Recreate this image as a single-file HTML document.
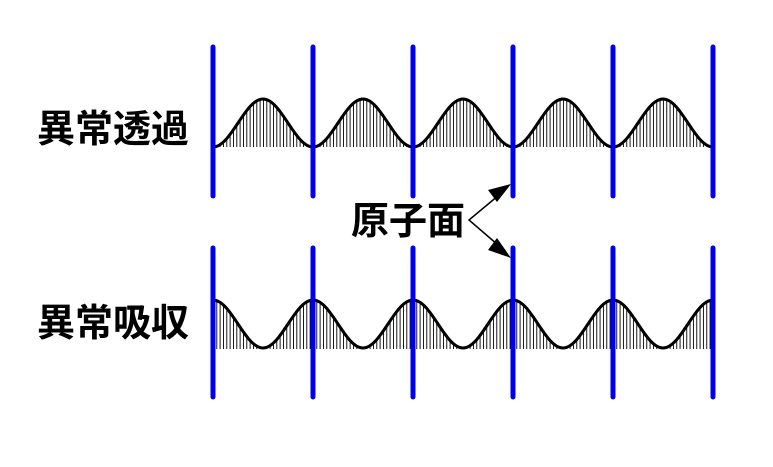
<!DOCTYPE html>
<html><head><meta charset="utf-8"><style>
html,body{margin:0;padding:0;background:#fff;}
svg{display:block;}
text{font-family:"Liberation Sans","Noto Sans CJK JP",sans-serif;font-weight:bold;fill:#000;}
</style></head><body>
<svg width="773" height="467" viewBox="0 0 773 467" xmlns="http://www.w3.org/2000/svg">
<defs>
<pattern id="h" patternUnits="userSpaceOnUse" x="213" y="0" width="3.333" height="10">
<rect x="0" y="0" width="0.9" height="10" fill="#000"/>
</pattern>
</defs>
<path d="M213 147 C231.2 147 244.8 99 263 99 S294.8 147 313 147 S344.8 99 363 99 S394.8 147 413 147 S444.8 99 463 99 S494.8 147 513 147 S544.8 99 563 99 S594.8 147 613 147 S644.8 99 663 99 S694.8 147 713 147 Z" fill="url(#h)"/>
<path d="M213 147 C231.2 147 244.8 99 263 99 S294.8 147 313 147 S344.8 99 363 99 S394.8 147 413 147 S444.8 99 463 99 S494.8 147 513 147 S544.8 99 563 99 S594.8 147 613 147 S644.8 99 663 99 S694.8 147 713 147" fill="none" stroke="#000" stroke-width="3"/>
<path d="M213 300 C231.2 300 244.8 348 263 348 S294.8 300 313 300 S344.8 348 363 348 S394.8 300 413 300 S444.8 348 463 348 S494.8 300 513 300 S544.8 348 563 348 S594.8 300 613 300 S644.8 348 663 348 S694.8 300 713 300 L713 349 L213 349 Z" fill="url(#h)"/>
<path d="M213 300 C231.2 300 244.8 348 263 348 S294.8 300 313 300 S344.8 348 363 348 S394.8 300 413 300 S444.8 348 463 348 S494.8 300 513 300 S544.8 348 563 348 S594.8 300 613 300 S644.8 348 663 348 S694.8 300 713 300" fill="none" stroke="#000" stroke-width="3"/>
<g stroke="#0000ee" stroke-width="5" stroke-linecap="round">
<line x1="213" y1="47" x2="213" y2="196"/><line x1="313" y1="47" x2="313" y2="196"/>
<line x1="413" y1="47" x2="413" y2="196"/><line x1="513" y1="47" x2="513" y2="196"/>
<line x1="613" y1="47" x2="613" y2="196"/><line x1="713" y1="47" x2="713" y2="196"/>
<line x1="213" y1="248" x2="213" y2="397"/><line x1="313" y1="248" x2="313" y2="397"/>
<line x1="413" y1="248" x2="413" y2="397"/><line x1="513" y1="248" x2="513" y2="397"/>
<line x1="613" y1="248" x2="613" y2="397"/><line x1="713" y1="248" x2="713" y2="397"/>
</g>
<path d="M505 190 L469 220 L505 251" fill="none" stroke="#000" stroke-width="1.5"/>
<path d="M511 184 L488 190 L497 202Z" fill="#000"/>
<path d="M511 258 L497 238 L488 250Z" fill="#000"/>
<text x="37" y="142" font-size="38">異常透過</text>
<text x="37" y="336" font-size="38">異常吸収</text>
<text x="351" y="234" font-size="38">原子面</text>
</svg>
</body></html>
